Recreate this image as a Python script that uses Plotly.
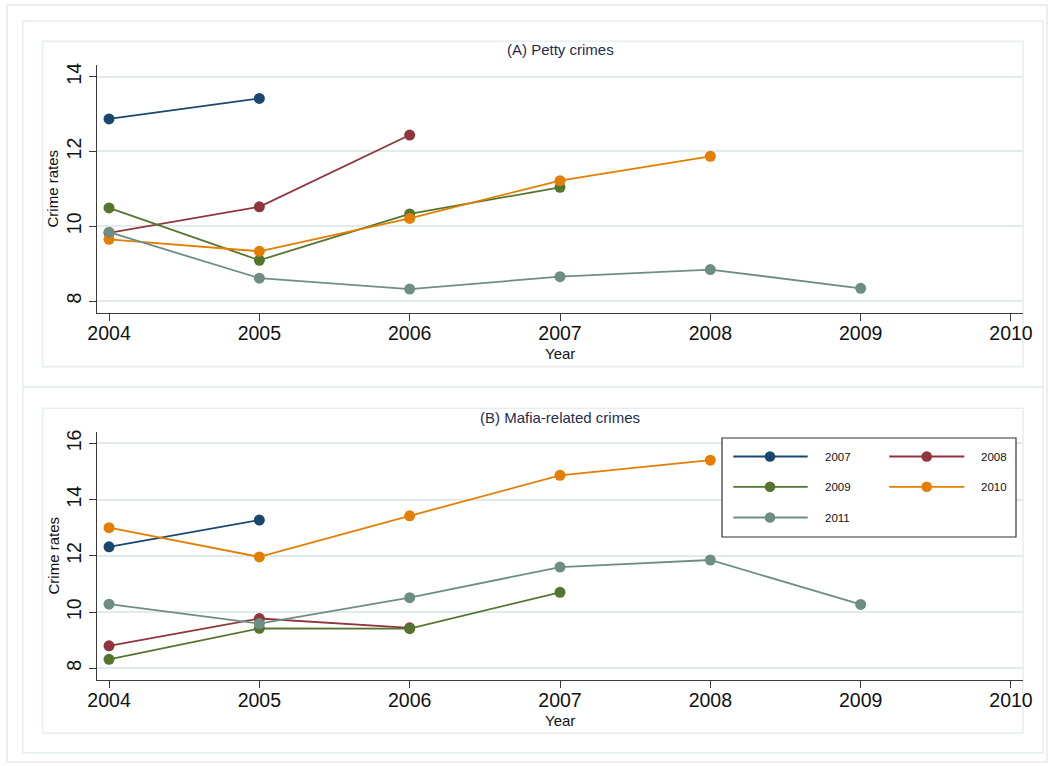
import plotly.graph_objects as go

W, H = 1054, 766

years = [2004, 2005, 2006, 2007, 2008, 2009]
cohorts = ["2007", "2008", "2009", "2010", "2011"]
colors = ["#1a476f", "#90353b", "#55752f", "#e37e00", "#6e8e84"]

# Panel A: petty crimes (series values by cohort)
petty_2007 = [12.87, 13.42]
petty_2008 = [9.82, 10.52, 12.44]
petty_2009 = [10.49, 9.09, 10.33, 11.04]
petty_2010 = [9.65, 9.33, 10.21, 11.22, 11.87]
petty_2011 = [9.84, 8.61, 8.32, 8.65, 8.84, 8.34]

# Panel B: mafia-related crimes
mafia_2007 = [12.32, 13.27]
mafia_2008 = [8.80, 9.77, 9.44]
mafia_2009 = [8.32, 9.42, 9.41, 10.70]
mafia_2010 = [13.00, 11.96, 13.42, 14.86, 15.40]
mafia_2011 = [10.28, 9.59, 10.51, 11.60, 11.85, 10.27]

petty = [petty_2007, petty_2008, petty_2009, petty_2010, petty_2011]
mafia = [mafia_2007, mafia_2008, mafia_2009, mafia_2010, mafia_2011]

xticks = [2004, 2005, 2006, 2007, 2008, 2009, 2010]
yticks_a = [8, 10, 12, 14]
yticks_b = [8, 10, 12, 14, 16]

FONT = "Liberation Sans, Arial, sans-serif"


def px(x):
    return x / W


def py(y):
    return 1 - y / H


fig = go.Figure()

for name, col, vals in zip(cohorts, colors, petty):
    fig.add_trace(go.Scatter(
        x=years[:len(vals)], y=vals, mode="lines+markers", name=name,
        line=dict(color=col, width=1.8), marker=dict(color=col, size=11),
        xaxis="x", yaxis="y", showlegend=False, hoverinfo="skip"))

for name, col, vals in zip(cohorts, colors, mafia):
    fig.add_trace(go.Scatter(
        x=years[:len(vals)], y=vals, mode="lines+markers", name=name,
        line=dict(color=col, width=1.8), marker=dict(color=col, size=11),
        xaxis="x2", yaxis="y2", showlegend=False, hoverinfo="skip"))

grid_col = "#e2eaee"
axis_common = dict(
    showline=True, linecolor="#3a3a3a", linewidth=1.2,
    ticks="outside", ticklen=7, tickcolor="#3a3a3a", tickwidth=1.2,
    tickfont=dict(family=FONT, size=19.5, color="#111111"),
    zeroline=False, automargin=False,
)

x_dom = [px(97), px(1023)]
fig.update_layout(
    template=None,
    width=W, height=H, autosize=False,
    margin=dict(l=0, r=0, t=0, b=0, pad=0, autoexpand=False),
    paper_bgcolor="white", plot_bgcolor="white",
    font=dict(family=FONT, color="#111111"),
    showlegend=False,
    xaxis=dict(domain=x_dom, anchor="y", range=[2003.92, 2010.08],
               tickvals=xticks, showgrid=False, ticklabelstandoff=-5, **axis_common),
    yaxis=dict(domain=[py(313.3), py(65)], anchor="x", range=[7.671, 14.313],
               tickvals=yticks_a, tickangle=-90, showgrid=True,
               gridcolor=grid_col, gridwidth=1.5, **axis_common),
    xaxis2=dict(domain=x_dom, anchor="y2", range=[2003.92, 2010.08],
                tickvals=xticks, showgrid=False, ticklabelstandoff=-5, **axis_common),
    yaxis2=dict(domain=[py(680), py(431.7)], anchor="x2", range=[7.584, 16.412],
                tickvals=yticks_b, tickangle=-90, showgrid=True,
                gridcolor=grid_col, gridwidth=1.5, **axis_common),
)

# Frames (outer graph, panel regions, plot regions)
box_outer = "#e9e9e9"
box_col = "#e6eef0"
shapes = [
    dict(type="rect", x0=px(7), x1=px(1047), y0=py(5), y1=py(762), line=dict(color=box_outer, width=1.5)),
    dict(type="rect", x0=px(22.7), x1=px(1043), y0=py(21), y1=py(387), line=dict(color=box_col, width=1.5)),
    dict(type="rect", x0=px(22.7), x1=px(1043), y0=py(387), y1=py(752.7), line=dict(color=box_col, width=1.5)),
    dict(type="rect", x0=px(42.7), x1=px(1023), y0=py(41.3), y1=py(366.7), line=dict(color=box_col, width=1.5)),
    dict(type="rect", x0=px(42.7), x1=px(1023), y0=py(408.3), y1=py(733.3), line=dict(color=box_col, width=1.5)),
]
for s in shapes:
    s.update(xref="paper", yref="paper", fillcolor="rgba(0,0,0,0)", layer="below")

# Legend (key box in panel B)
leg_shapes = [dict(type="rect", x0=px(722), x1=px(1016), y0=py(438), y1=py(537),
                   line=dict(color="#333333", width=1.2), fillcolor="white", layer="above")]
leg_ann = []
col_x = [(733.3, 807.7, 770, 823), (889.3, 964.3, 926.7, 979)]
row_y = [456.5, 486.8, 517.5]
for i, (name, col) in enumerate(zip(cohorts, colors)):
    cx = col_x[i % 2]
    ry = row_y[i // 2]
    leg_shapes.append(dict(type="line", x0=px(cx[0]), x1=px(cx[1]), y0=py(ry), y1=py(ry),
                           line=dict(color=col, width=1.8), layer="above"))
    r = 5.3
    leg_shapes.append(dict(type="circle", x0=px(cx[2] - r), x1=px(cx[2] + r),
                           y0=py(ry + r), y1=py(ry - r), line=dict(color=col, width=0),
                           fillcolor=col, layer="above"))
    leg_ann.append(dict(text=name, x=px(cx[3]), y=py(ry), xanchor="left", yanchor="middle",
                        font=dict(size=11.5, color="#111111")))
for s in leg_shapes:
    s.update(xref="paper", yref="paper")

fig.update_layout(shapes=shapes + leg_shapes)

title_col = "#1f2d4e"
ann = [
    dict(text="(A) Petty crimes", x=px(560), y=py(50), font=dict(size=15, color=title_col)),
    dict(text="(B) Mafia-related crimes", x=px(560), y=py(417), font=dict(size=15, color=title_col)),
    dict(text="Crime rates", x=px(52.5), y=py(189), textangle=-90, font=dict(size=15, color="#111111")),
    dict(text="Crime rates", x=px(52.5), y=py(556), textangle=-90, font=dict(size=15, color="#111111")),
    dict(text="Year", x=px(560), y=py(353), font=dict(size=15, color="#111111")),
    dict(text="Year", x=px(560), y=py(720), font=dict(size=15, color="#111111")),
]
for a in ann:
    a.update(xanchor="center", yanchor="middle")
for a in ann + leg_ann:
    a.update(xref="paper", yref="paper", showarrow=False)
    a["font"]["family"] = FONT
fig.update_layout(annotations=ann + leg_ann)

fig.write_html(
    "out.html",
    config={"displayModeBar": False, "responsive": False},
    post_script="document.body.style.margin='0';document.body.style.overflow='hidden';",
)
